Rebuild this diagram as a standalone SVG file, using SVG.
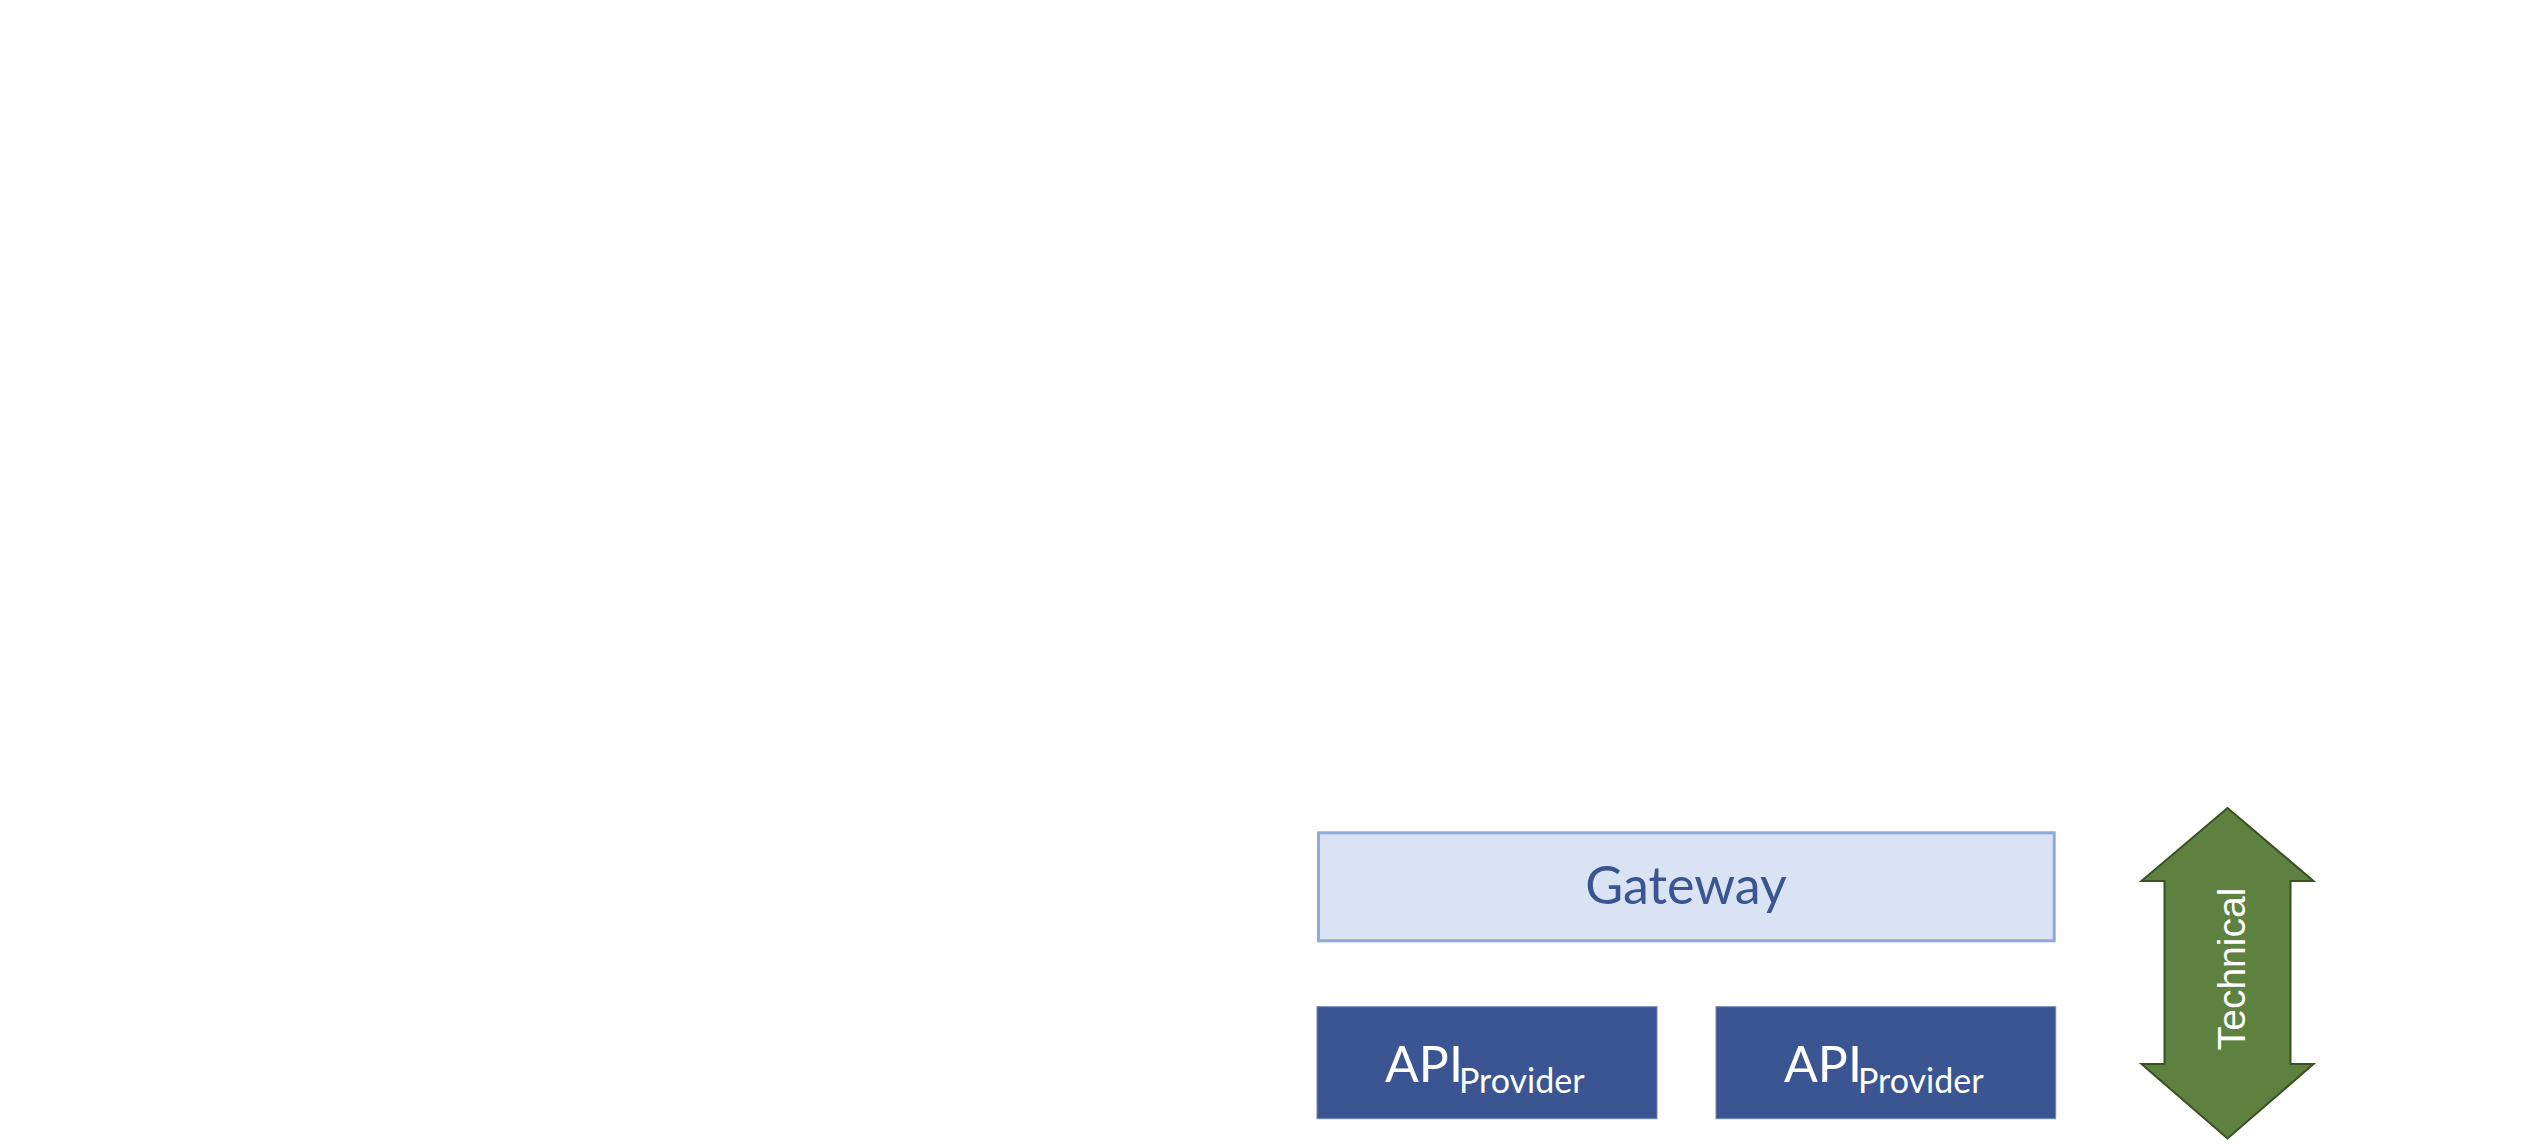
<svg xmlns="http://www.w3.org/2000/svg" width="2540" height="1148" viewBox="0 0 2540 1148">
<style>
.gw{fill:#DAE3F3;stroke:#8FAADC;stroke-width:3}
.api{fill:#3A5592;stroke:#6F88B8;stroke-width:1}
.arrow{fill:#5E813F;stroke:#3A5124;stroke-width:2;stroke-linejoin:miter}
.gwt{font-family:Lato,"Open Sans",sans-serif;font-size:52px;fill:#3A5592}
.apit{font-family:Lato,"Open Sans",sans-serif;fill:#FFFFFF}
.tech{font-family:"Liberation Sans",Arial,sans-serif;font-size:39px;fill:#FFFFFF}
</style>
<rect width="2540" height="1148" fill="#FFFFFF"/>
<g id="connectors"></g>
<g id="gateway">
<rect class="gw" x="1318.5" y="832.8" width="735.7" height="108"/>
<text class="gwt" x="1686" y="904" text-anchor="middle">Gateway</text>
</g>
<g id="api-provider-1">
<rect class="api" x="1317" y="1006.7" width="340" height="112"/>
<text class="apit" x="1385" y="1082"><tspan font-size="50">API</tspan><tspan font-size="34" x="1459" y="1093">Provider</tspan></text>
</g>
<g id="api-provider-2">
<rect class="api" x="1716" y="1006.7" width="339.7" height="112"/>
<text class="apit" x="1784" y="1082"><tspan font-size="50">API</tspan><tspan font-size="34" x="1858" y="1093">Provider</tspan></text>
</g>
<g id="technical">
<polygon class="arrow" points="2227.5,808 2313.5,881 2290.5,881 2290.5,1064 2313.5,1064 2227.5,1138.5 2141.5,1064 2164.5,1064 2164.5,881 2141.5,881"/>
<text class="tech" transform="translate(2245,969) rotate(-90)" x="0" y="0" text-anchor="middle">Technical</text>
</g>
</svg>
